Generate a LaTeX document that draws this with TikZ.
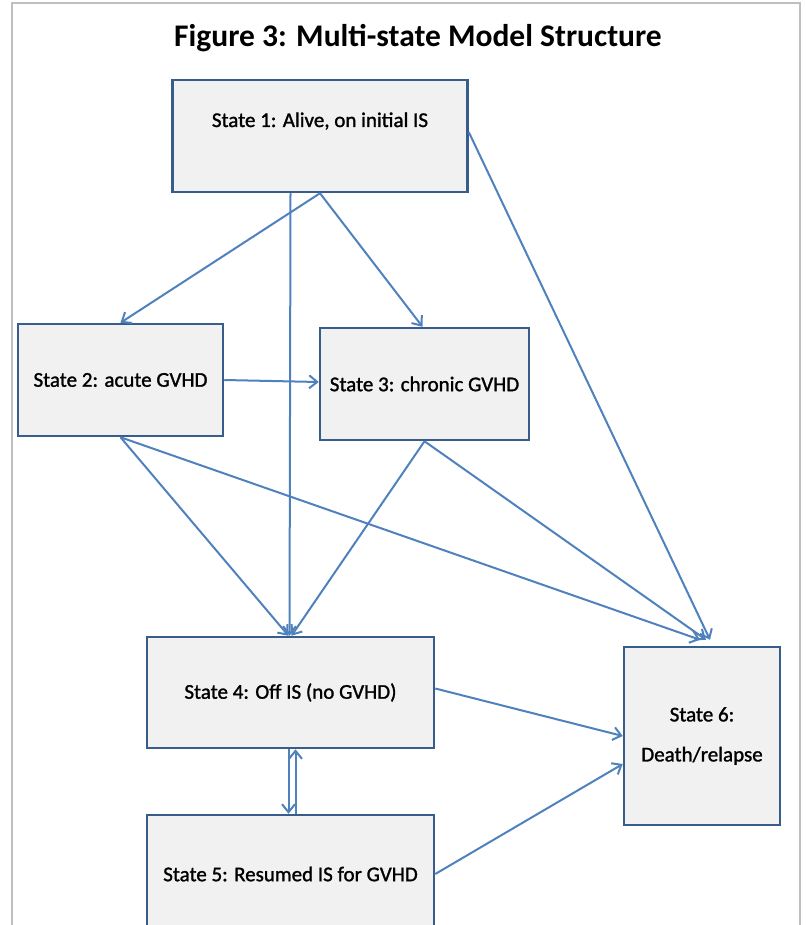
\documentclass[tikz,border=0pt]{standalone}
\usepackage{fontspec}
\setmainfont{Carlito}
\newfontfamily\boxfont[FakeBold=1.3]{Carlito}
\usetikzlibrary{arrows.meta}
\colorlet{frameColor}{black!25}
\definecolor{penColor}{RGB}{79,129,189}
\definecolor{boxLine}{RGB}{56,93,138}
\definecolor{boxFill}{RGB}{241,241,241}
\tikzset{>={Straight Barb[length=8pt,width=13pt]}}
\tikzset{
  state/.style={draw=boxLine, line width=2.5pt, fill=boxFill, align=center,
    font=\boxfont\fontsize{21}{40}\selectfont, inner sep=0pt},
  link/.style={->, penColor, line width=2pt}
}

\begin{document}
\begin{tikzpicture}[x=1pt,y=-1pt]
		\useasboundingbox (0,0) rectangle (805,925);
		\draw [frameColor, line width=2pt] (12,925) -- (12,3) -- (800,3) -- (800,925);
		\node (title) at (418,38) {\fontsize{31.5}{36}\selectfont\bfseries Figure 3: Multi-state Model Structure};
		% states
		\node [state, minimum width=295pt, minimum height=112pt, text height=15pt, text depth=33pt] (s1) at (320,136) {State 1: Alive, on initial IS};
		\node [state, minimum width=205pt, minimum height=112pt] (s2) at (120.5,380) {State 2: acute GVHD};
		\node [state, minimum width=209pt, minimum height=112pt] (s3) at (424.5,384) {State 3: chronic GVHD};
		\node [state, minimum width=287pt, minimum height=111pt] (s4) at (290.5,692.5) {State 4: Off IS (no GVHD)};
		\node [state, minimum width=287pt, minimum height=118pt] (s5) at (290.5,874) {State 5: Resumed IS for GVHD};
		\node [state, minimum width=156pt, minimum height=178pt] (s6) at (702,736) {State 6:\\Death/relapse};
		% transitions
		\draw [link] (s1.south) -- (s2.north);
		\draw [link] (s1.south) -- ([xshift=-2pt]s3.north);
		\draw [link] (s4.north |- s1.south) -- ([xshift=-1pt]s4.north);
		\draw [link] ([yshift=4pt]s1.east) -- ([xshift=8pt,yshift=6pt]s6.north);
		\draw [link] (s2.east) -- ([yshift=2pt]s3.west);
		\draw [link] (s2.south) -- ([xshift=-2pt]s4.north);
		\draw [link] (s2.south) -- ([xshift=-2pt,yshift=6pt]s6.north);
		\draw [link] (s3.south) -- ([xshift=1pt]s4.north);
		\draw [link] (s3.south) -- ([xshift=4pt,yshift=6pt]s6.north);
		\draw [link] ([yshift=4pt]s4.east) -- (s6.west);
		\draw [link] (s5.east) -- ([yshift=-28pt]s6.west);
		\draw [link] ([xshift=-2pt]s4.south) -- ([xshift=-2pt]s5.north);
		\draw [link] ([xshift=5pt]s5.north) -- ([xshift=5pt]s4.south);
\end{tikzpicture}
\end{document}
